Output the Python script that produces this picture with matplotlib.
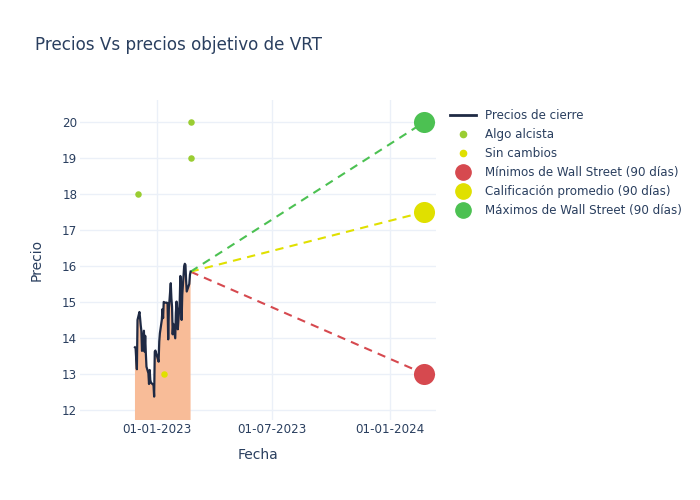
import matplotlib
matplotlib.use('Agg')
import matplotlib.pyplot as plt
import matplotlib.dates as mdates
from matplotlib.lines import Line2D
import pandas as pd

# closing prices (trading days 28-11-2022 .. 23-02-2023)
holidays = ['2022-12-26', '2023-01-02', '2023-01-16', '2023-02-20']
price_dates = pd.bdate_range('2022-11-28', '2023-02-23', freq='C', holidays=holidays)
prices = [13.74, 13.72, 13.4, 13.13, 14.5, 14.72, 14.55, 14.35, 14.2, 13.64,
          14.2, 13.62, 14.06, 13.57, 13.2, 13.02, 12.72, 13.11, 12.83, 12.76,
          12.69, 12.37, 13.62, 13.65, 13.4, 13.34, 13.9, 14.13, 14.5, 14.8,
          14.55, 15.0, 14.98, 14.98, 14.96, 13.96, 14.8, 15.52, 15.1, 14.87,
          14.1, 14.39, 13.99, 14.69, 15.01, 14.78, 14.24, 15.0, 15.72, 15.43,
          14.5, 15.2, 16.0, 16.06, 16.03, 15.6, 15.29, 15.5, 15.75, 15.84]

# analyst ratings
bull_dates = pd.to_datetime(['2022-12-02', '2023-02-23', '2023-02-23'])
bull_targets = [18, 20, 19]
hold_dates = pd.to_datetime(['2023-01-13'])
hold_targets = [13]

# 90-day targets
target_date = pd.Timestamp('2024-02-24')
target_low = 13
target_avg = 17.5
target_high = 20

font_color = '#2a3f5f'
grid_color = '#ebf0f8'
red = '#d6494f'
yellow = '#e0e000'
green = '#4cc152'
bull_color = '#9acd32'

fig = plt.figure(figsize=(7, 5), dpi=100)
ax = fig.add_axes([80 / 700, 80 / 500, 356 / 700, 320 / 500])

last_date = price_dates[-1]
last_price = prices[-1]

ax.fill_between(price_dates, prices, 0, color='#f8bc98', lw=0, zorder=1)
ax.plot(price_dates, prices, color='#1f2a44', lw=1.6, zorder=3)

ax.plot([last_date, target_date], [last_price, target_low], color=red, lw=1.5, dashes=(4, 3), zorder=2)
ax.plot([last_date, target_date], [last_price, target_avg], color=yellow, lw=1.5, dashes=(4, 3), zorder=2)
ax.plot([last_date, target_date], [last_price, target_high], color=green, lw=1.5, dashes=(4, 3), zorder=2)

ax.scatter(bull_dates, bull_targets, s=22, color=bull_color, zorder=4, lw=0)
ax.scatter(hold_dates, hold_targets, s=22, color=yellow, zorder=4, lw=0)
ax.scatter([target_date], [target_low], s=230, color=red, zorder=4, lw=0)
ax.scatter([target_date], [target_avg], s=230, color=yellow, zorder=4, lw=0)
ax.scatter([target_date], [target_high], s=230, color=green, zorder=4, lw=0)

ax.set_xlim(pd.Timestamp('2022-09-03'), pd.Timestamp('2024-03-13'))
ax.set_ylim(11.72, 20.61)
ax.set_yticks(range(12, 21))
ax.set_xticks(pd.to_datetime(['2023-01-01', '2023-07-01', '2024-01-01']))
ax.xaxis.set_major_formatter(mdates.DateFormatter('%d-%m-%Y'))

ax.grid(True, color=grid_color, lw=1, zorder=0)
ax.set_axisbelow(True)
for s in ax.spines.values():
    s.set_visible(False)
ax.tick_params(length=0, colors=font_color, labelsize=8.6, pad=2)
ax.set_xlabel('Fecha', color=font_color, fontsize=10, labelpad=9)
ax.set_ylabel('Precio', color=font_color, fontsize=10, labelpad=13)

fig.text(35 / 700, 1 - 45 / 500, 'Precios Vs precios objetivo de VRT', color=font_color,
         fontsize=12.1, va='center', ha='left')

handles = [
    Line2D([], [], color='#1f2a44', lw=2),
    Line2D([], [], ls='', marker='o', ms=4.5, color=bull_color),
    Line2D([], [], ls='', marker='o', ms=4.5, color=yellow),
    Line2D([], [], ls='', marker='o', ms=11, color=red),
    Line2D([], [], ls='', marker='o', ms=11, color=yellow),
    Line2D([], [], ls='', marker='o', ms=11, color=green),
]
labels = ['Precios de cierre', 'Algo alcista', 'Sin cambios',
          'Mínimos de Wall Street (90 días)', 'Calificación promedio (90 días)',
          'Máximos de Wall Street (90 días)']
leg = fig.legend(handles, labels, loc='upper left', bbox_to_anchor=(450 / 700, 1 - 109 / 500),
                 frameon=False, fontsize=8.6, handlelength=2.2, handletextpad=0.75,
                 labelspacing=0.5, borderaxespad=0, borderpad=0)
for t in leg.get_texts():
    t.set_color(font_color)

fig.savefig('out.png', dpi=100)
